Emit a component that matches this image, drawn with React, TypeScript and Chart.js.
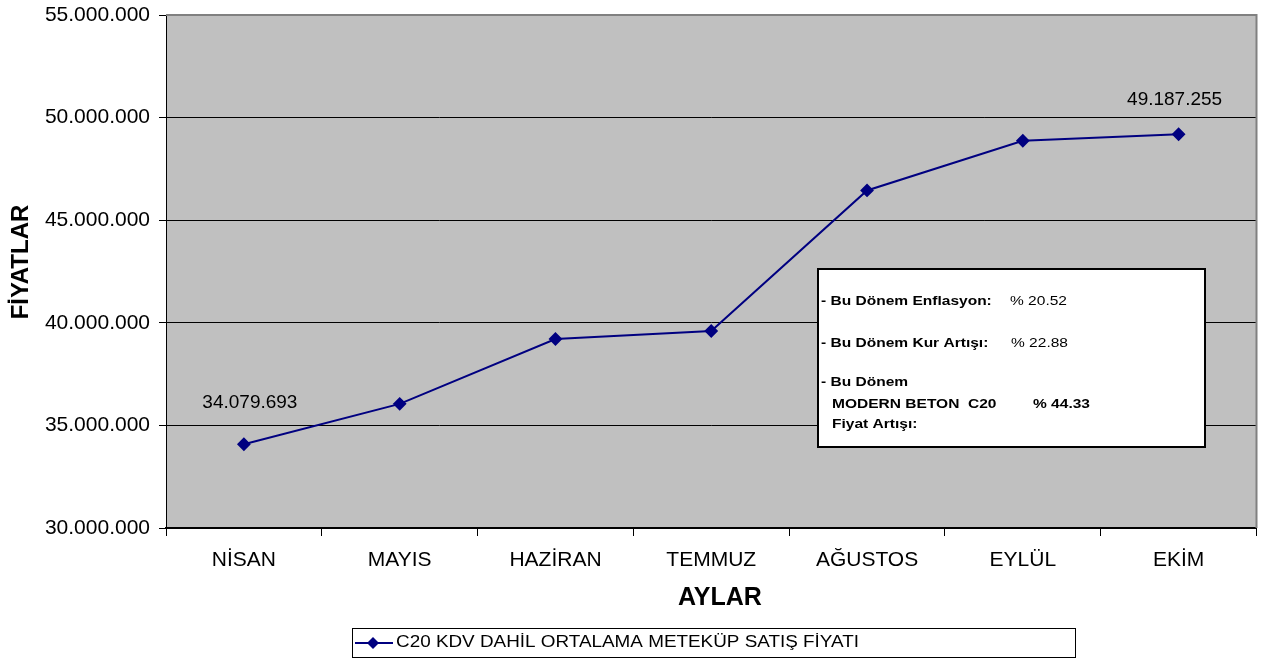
import React, { useEffect, useRef } from "react";
import { Chart, registerables } from "chart.js";

Chart.register(...registerables);

const months = ["NİSAN", "MAYIS", "HAZİRAN", "TEMMUZ", "AĞUSTOS", "EYLÜL", "EKİM"];
const prices = [34079693, 36050000, 39210000, 39600000, 46450000, 48870000, 49187255];
const labeledPoints = [0, 6];
const seriesLabel = "C20 KDV DAHİL ORTALAMA METEKÜP SATIŞ FİYATI";
const yTitle = "FİYATLAR";
const xTitle = "AYLAR";
const yMin = 30000000;
const yMax = 55000000;
const yStep = 5000000;
const infoLabels = ["- Bu Dönem Enflasyon:", "- Bu Dönem Kur Artışı:"];
const infoValues = ["% 20.52", "% 22.88"];
const infoLast = ["- Bu Dönem", "MODERN BETON  C20", "Fiyat Artışı:"];
const infoLastValue = "% 44.33";

const FONT = "'Liberation Sans', Arial, Helvetica, sans-serif";
const LINE = "#000080";

const fmt = (n: number) => String(Math.round(n)).replace(/\B(?=(\d{3})+(?!\d))/g, ".");

function wideText(ctx: CanvasRenderingContext2D, text: string, x: number, y: number, sx: number) {
  ctx.save();
  ctx.translate(x, y);
  ctx.scale(sx, 1);
  ctx.fillText(text, 0, 0);
  ctx.restore();
}

const decor = {
  id: "decor",
  beforeDraw(chart: any) {
    const { ctx, chartArea: a } = chart;
    ctx.save();
    ctx.fillStyle = "#C0C0C0";
    ctx.fillRect(a.left, a.top, a.right - a.left, a.bottom - a.top);
    ctx.restore();
  },
  afterDatasetsDraw(chart: any) {
    const { ctx, chartArea: a } = chart;
    ctx.save();
    // top / right frame
    ctx.strokeStyle = "#808080";
    ctx.lineWidth = 2;
    ctx.beginPath();
    ctx.moveTo(a.left, a.top);
    ctx.lineTo(a.right, a.top);
    ctx.lineTo(a.right, a.bottom);
    ctx.stroke();

    // axis titles
    ctx.fillStyle = "#000";
    ctx.textAlign = "center";
    ctx.textBaseline = "middle";
    ctx.font = `bold 25px ${FONT}`;
    ctx.fillText(xTitle, 720, 598);
    ctx.save();
    ctx.translate(21, 262);
    ctx.rotate(-Math.PI / 2);
    ctx.font = `bold 24px ${FONT}`;
    ctx.fillText(yTitle, 0, 0);
    ctx.restore();

    // data labels
    const meta = chart.getDatasetMeta(0);
    ctx.font = `19px ${FONT}`;
    labeledPoints.forEach((i) => {
      const p = meta.data[i];
      ctx.fillText(fmt(prices[i]), p.x + (i === 0 ? 6 : -4), p.y - (i === 0 ? 42 : 35));
    });

    // info box
    const bx = 818, by = 269, bw = 387, bh = 178;
    ctx.fillStyle = "#FFFFFF";
    ctx.fillRect(bx, by, bw, bh);
    ctx.strokeStyle = "#000";
    ctx.lineWidth = 2;
    ctx.strokeRect(bx, by, bw, bh);
    ctx.fillStyle = "#000";
    ctx.textAlign = "left";
    ctx.textBaseline = "middle";
    const sx = 1.15;
    ctx.font = `bold 13.5px ${FONT}`;
    wideText(ctx, infoLabels[0], 821, 301, sx);
    wideText(ctx, infoLabels[1], 821, 343, sx);
    wideText(ctx, infoLast[0], 821, 382, sx);
    wideText(ctx, infoLast[1], 832, 404, sx);
    wideText(ctx, infoLast[2], 832, 424, sx);
    wideText(ctx, infoLastValue, 1033, 404, sx);
    ctx.font = `13.5px ${FONT}`;
    wideText(ctx, infoValues[0], 1010, 301, sx);
    wideText(ctx, infoValues[1], 1011, 343, sx);

    // legend
    const lx = 352, ly = 628, lw = 723, lh = 30;
    ctx.fillStyle = "#FFFFFF";
    ctx.fillRect(lx, ly, lw, lh);
    ctx.strokeStyle = "#000";
    ctx.lineWidth = 1;
    ctx.strokeRect(lx + 0.5, ly + 0.5, lw, lh - 1);
    const cy = 643;
    ctx.strokeStyle = LINE;
    ctx.lineWidth = 2;
    ctx.beginPath();
    ctx.moveTo(355, cy);
    ctx.lineTo(393, cy);
    ctx.stroke();
    ctx.fillStyle = LINE;
    ctx.beginPath();
    ctx.moveTo(373, cy - 6);
    ctx.lineTo(379, cy);
    ctx.lineTo(373, cy + 6);
    ctx.lineTo(367, cy);
    ctx.closePath();
    ctx.fill();
    ctx.fillStyle = "#000";
    ctx.font = `16px ${FONT}`;
    ctx.textAlign = "left";
    wideText(ctx, seriesLabel, 396, cy, 1.18);
    ctx.restore();
  },
};

export default function App() {
  const ref = useRef<HTMLCanvasElement | null>(null);
  useEffect(() => {
    document.body.style.margin = "0";
    if (!ref.current) return;
    const chart = new Chart(ref.current, {
      type: "line",
      data: {
        labels: months,
        datasets: [
          {
            label: seriesLabel,
            data: prices,
            borderColor: LINE,
            backgroundColor: LINE,
            borderWidth: 2,
            pointStyle: "rectRot",
            pointRadius: 5.5,
            pointBackgroundColor: LINE,
            pointBorderColor: LINE,
            tension: 0,
          },
        ],
      },
      options: {
        animation: false,
        responsive: true,
        maintainAspectRatio: false,
        layout: { padding: { left: 0, top: 15, right: 6, bottom: 0 } },
        plugins: { legend: { display: false }, tooltip: { enabled: false } },
        scales: {
          x: {
            type: "category",
            offset: true,
            grid: { display: true, offset: true, drawOnChartArea: false, drawTicks: true, tickLength: 8, color: "#000" },
            border: { display: true, color: "#000", width: 2 },
            ticks: { color: "#000", font: { family: FONT, size: 21 }, padding: 12, maxRotation: 0, autoSkip: false },
            title: { display: false, text: xTitle },
            afterFit: (s: any) => { s.height = 130; s.paddingLeft = 0; s.paddingRight = 0; },
          },
          y: {
            min: yMin,
            max: yMax,
            grid: { color: "#000", lineWidth: 1, drawTicks: true, tickLength: 7 },
            border: { display: true, color: "#000", width: 1 },
            ticks: { stepSize: yStep, color: "#000", font: { family: FONT, size: 21 }, padding: 9, callback: (v: any) => fmt(Number(v)) },
            title: { display: false, text: yTitle },
            afterFit: (s: any) => { s.width = 166; s.paddingTop = 0; s.paddingBottom = 0; },
          },
        },
      },
      plugins: [decor],
    } as any);
    return () => chart.destroy();
  }, []);
  return (
    <div style={{ width: 1264, height: 658, position: "relative" }}>
      <canvas ref={ref} />
    </div>
  );
}
